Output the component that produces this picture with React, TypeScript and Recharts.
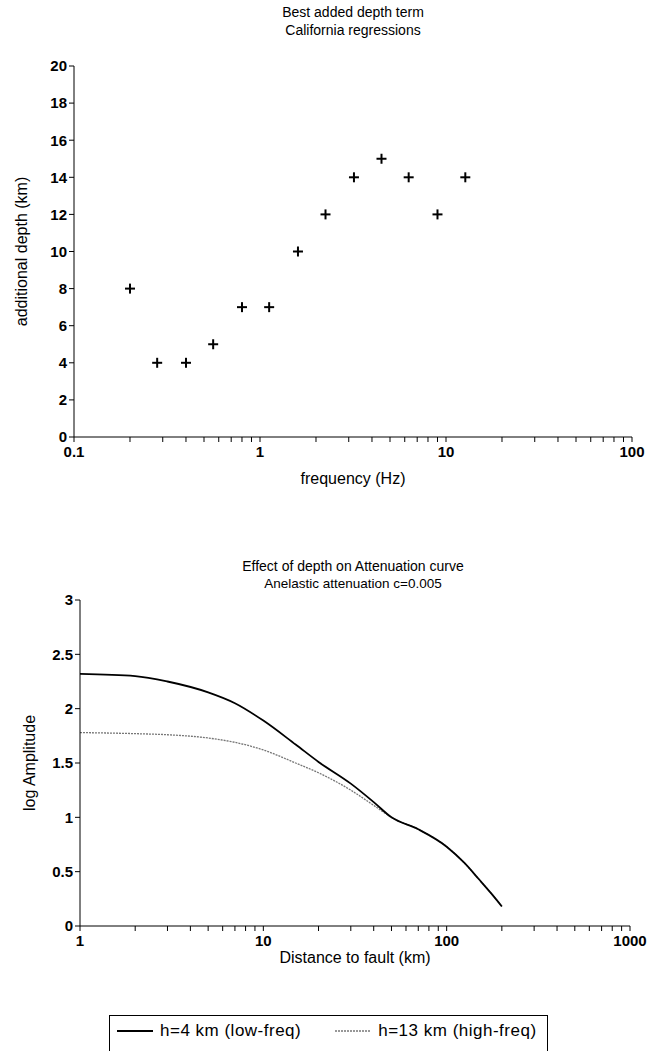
import { Label, Line, LineChart, Scatter, ScatterChart, XAxis, YAxis } from "recharts";

// top panel: best added depth per frequency
const FREQ_HZ = [0.2, 0.28, 0.4, 0.56, 0.8, 1.12, 1.6, 2.25, 3.2, 4.5, 6.3, 9, 12.7];
const DEPTH_KM = [8, 4, 4, 5, 7, 7, 10, 12, 14, 15, 14, 12, 14];
const FREQ_TICKS = [0.1, 0.2, 0.3, 0.4, 0.5, 0.6, 0.7, 0.8, 0.9, 1, 2, 3, 4, 5, 6, 7, 8, 9, 10, 20, 30, 40, 50, 60, 70, 80, 90, 100];
const DEPTH_TICKS = [0, 2, 4, 6, 8, 10, 12, 14, 16, 18, 20];

// bottom panel: attenuation curves
const DIST_KM = [1, 2, 3, 5, 7, 10, 15, 20, 30, 40, 50, 70, 100, 125, 150, 175, 200];
const AMP_H4 = [2.32, 2.3, 2.25, 2.15, 2.05, 1.89, 1.67, 1.51, 1.31, 1.14, 1.0, 0.89, 0.73, 0.58, 0.43, 0.3, 0.18];
const AMP_H13 = [1.78, 1.77, 1.76, 1.73, 1.69, 1.62, 1.5, 1.41, 1.25, 1.11, 1.0, 0.89, 0.73, 0.58, 0.43, 0.3, 0.18];
const DIST_TICKS = [1, 2, 3, 4, 5, 6, 7, 8, 9, 10, 20, 30, 40, 50, 60, 70, 80, 90, 100, 200, 300, 400, 500, 600, 700, 800, 900, 1000];
const AMP_TICKS = [0, 0.5, 1, 1.5, 2, 2.5, 3];

const SERIES = [
  { key: "h4", name: "h=4 km (low-freq)", color: "#000", width: 1.8, dash: undefined as string | undefined },
  { key: "h13", name: "h=13 km (high-freq)", color: "#777", width: 1.3, dash: "2 1" }
];

const FONT = "'Liberation Sans', Arial, Helvetica, sans-serif";

const scatterData = FREQ_HZ.map((f, i) => ({ f, depth: DEPTH_KM[i] }));
const lineData = DIST_KM.map((d, i) => ({ d, h4: AMP_H4[i], h13: AMP_H13[i] }));

const isDecade = (v: number) => Math.abs(Math.log10(v) - Math.round(Math.log10(v))) < 1e-6;
const decadeLabel = (v: number) => (isDecade(v) ? String(v) : "");

const tickStyle = { fill: "#000", fontSize: 15, fontWeight: "bold" as const };
const axisLine = { stroke: "#000", strokeWidth: 1 };

function Plus(props: any) {
  const { cx, cy } = props;
  if (cx == null || cy == null) return null;
  return (
    <g stroke="#000" strokeWidth={2}>
      <line x1={cx - 5} y1={cy} x2={cx + 5} y2={cy} />
      <line x1={cx} y1={cy - 5} x2={cx} y2={cy + 5} />
    </g>
  );
}

function Title({ top, lines, sizes }: { top: number; lines: string[]; sizes: number[] }) {
  return (
    <div style={{ position: "absolute", left: 0, top, width: 706, textAlign: "center", lineHeight: "18px" }}>
      {lines.map((l, i) => (
        <div key={l} style={{ fontSize: sizes[i] }}>
          {l}
        </div>
      ))}
    </div>
  );
}

export default function App() {
  return (
    <div
      style={{
        position: "absolute",
        left: 0,
        top: 0,
        width: 659,
        height: 1051,
        overflow: "hidden",
        background: "#fff",
        fontFamily: FONT,
        color: "#000"
      }}
    >
      <Title top={3} lines={["Best added depth term", "California regressions"]} sizes={[14, 14]} />
      <div style={{ position: "absolute", left: 0, top: 0 }}>
        <ScatterChart width={659} height={500} margin={{ top: 66, right: 27, left: 0, bottom: 13 }}>
          <XAxis
            dataKey="f"
            type="number"
            scale="log"
            domain={[0.1, 100]}
            allowDataOverflow
            ticks={FREQ_TICKS}
            interval={0}
            tickFormatter={decadeLabel}
            tick={tickStyle}
            tickLine={axisLine}
            axisLine={axisLine}
            tickSize={5}
            tickMargin={4}
            height={50}
          >
            <Label value="frequency (Hz)" position="insideBottom" offset={3} fill="#000" fontSize={16} />
          </XAxis>
          <XAxis xAxisId="top" orientation="top" type="number" domain={[0, 1]} tick={false} tickLine={false} axisLine={axisLine} height={0} />
          <YAxis
            dataKey="depth"
            type="number"
            domain={[0, 20]}
            ticks={DEPTH_TICKS}
            interval={0}
            tick={tickStyle}
            tickLine={axisLine}
            axisLine={axisLine}
            tickSize={5}
            width={74}
          >
            <Label value="additional depth (km)" angle={-90} position="insideLeft" offset={21} fill="#000" fontSize={16} style={{ textAnchor: "middle" }} />
          </YAxis>
          <YAxis yAxisId="right" orientation="right" type="number" domain={[0, 1]} tick={false} tickLine={false} axisLine={axisLine} width={0} />
          <Scatter data={scatterData} shape={Plus} isAnimationActive={false} />
        </ScatterChart>
      </div>

      <Title top={557} lines={["Effect of depth on Attenuation curve", "Anelastic attenuation c=0.005"]} sizes={[14, 13.5]} />
      <div style={{ position: "absolute", left: 0, top: 540 }}>
        <LineChart width={659} height={440} data={lineData} margin={{ top: 60, right: 29, left: 0, bottom: 10 }}>
          <XAxis
            dataKey="d"
            type="number"
            scale="log"
            domain={[1, 1000]}
            allowDataOverflow
            ticks={DIST_TICKS}
            interval={0}
            tickFormatter={decadeLabel}
            tick={tickStyle}
            tickLine={axisLine}
            axisLine={axisLine}
            tickSize={5}
            tickMargin={4}
            height={44}
          >
            <Label value="Distance to fault (km)" position="insideBottom" offset={7} fill="#000" fontSize={16} />
          </XAxis>
          <XAxis xAxisId="top" orientation="top" type="number" domain={[0, 1]} tick={false} tickLine={false} axisLine={axisLine} height={0} />
          <YAxis
            type="number"
            domain={[0, 3]}
            ticks={AMP_TICKS}
            interval={0}
            tick={tickStyle}
            tickLine={axisLine}
            axisLine={axisLine}
            tickSize={5}
            width={80}
          >
            <Label value="log Amplitude" angle={-90} position="insideLeft" offset={29} fill="#000" fontSize={16} style={{ textAnchor: "middle" }} />
          </YAxis>
          <YAxis yAxisId="right" orientation="right" type="number" domain={[0, 1]} tick={false} tickLine={false} axisLine={axisLine} width={0} />
          {[...SERIES].reverse().map((s) => (
            <Line
              key={s.key}
              dataKey={s.key}
              name={s.name}
              type="monotone"
              stroke={s.color}
              strokeWidth={s.width}
              strokeDasharray={s.dash}
              dot={false}
              activeDot={false}
              isAnimationActive={false}
            />
          ))}
        </LineChart>
      </div>

      <div
        style={{
          position: "absolute",
          left: 109,
          top: 1015,
          width: 439,
          height: 60,
          border: "1px solid #000",
          display: "flex",
          alignItems: "flex-start",
          paddingTop: 5,
          boxSizing: "border-box",
          fontSize: 17,
          letterSpacing: 0.5,
          whiteSpace: "nowrap"
        }}
      >
        {SERIES.map((s, i) => (
          <div key={s.key} style={{ display: "flex", alignItems: "center", marginLeft: i === 0 ? 7 : 34 }}>
            <svg width={36} height={10} style={{ marginRight: 7 }}>
              <line x1={0} y1={5} x2={36} y2={5} stroke={s.color} strokeWidth={s.width} strokeDasharray={s.dash} />
            </svg>
            <span>{s.name}</span>
          </div>
        ))}
      </div>
    </div>
  );
}
